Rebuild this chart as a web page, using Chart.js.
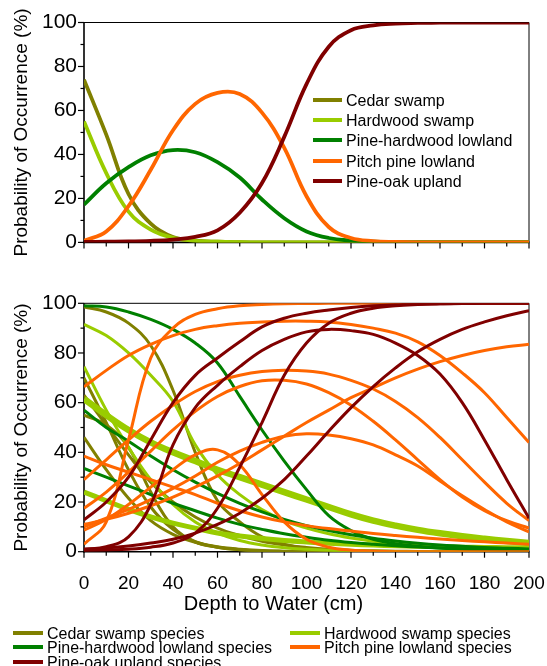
<!DOCTYPE html>
<html>
<head>
<meta charset="utf-8">
<script src="https://cdn.jsdelivr.net/npm/chart.js@4.4.0/dist/chart.umd.min.js"></script>
<style>
  html, body { margin: 0; padding: 0; background: #fff; }
  body { width: 547px; height: 666px; overflow: hidden; position: relative; font-family: "Liberation Sans", Arial, sans-serif; color: #000; }
  canvas { position: absolute; left: 0; }
  #c1 { top: 0; }
  #c2 { top: 280px; }
  #xtitle { position: absolute; left: 0; width: 547px; top: 592px; text-align: center; font-size: 20px; line-height: 22px; }
  .lt { position: absolute; white-space: nowrap; font-size: 16px; }
  .sw { position: absolute; height: 4px; }
</style>
</head>
<body>
<canvas id="c1" width="547" height="262"></canvas>
<canvas id="c2" width="547" height="320"></canvas>
<div id="xtitle">Depth to Water (cm)</div>
<div id="legends"></div>
<script>
// ---------- data ----------
const depthCm = [0,10,20,30,40,50,60,70,80,90,100,110,120,130,140,150,160,170,180,190,200];

const groupNames = ['Cedar swamp','Hardwood swamp','Pine-hardwood lowland','Pitch pine lowland','Pine-oak upland'];
const bottomLegendNames = ['Cedar swamp species','Hardwood swamp species','Pine-hardwood lowland species','Pitch pine lowland species','Pine-oak upland species'];

// Top panel: community-level curves (%)
const topCedar        = [74, 49, 22, 8.5, 2.4, 0.8, 0.3, 0.1, 0, 0, 0, 0, 0, 0, 0, 0, 0, 0, 0, 0, 0];
const topHardwood     = [55, 31.5, 14, 5.8, 2.1, 0.7, 0.3, 0.1, 0, 0, 0, 0, 0, 0, 0, 0, 0, 0, 0, 0, 0];
const topPineHardwood = [17.2, 26.9, 34.2, 39.6, 42, 41, 36.5, 29.5, 19.5, 11, 5, 2, 0.8, 0.3, 0.1, 0, 0, 0, 0, 0, 0];
const topPitchPine    = [0.7, 5, 16.5, 33, 51, 63, 68, 67.5, 59, 43, 21, 7, 2, 0.6, 0.2, 0, 0, 0, 0, 0, 0];
const topPineOak      = [0.2, 0.3, 0.4, 0.7, 1.3, 2.5, 5.5, 13.5, 27, 48, 72, 89, 96.5, 98.7, 99.5, 99.8, 100, 100, 100, 100, 100];

// Bottom panel: species-level curves (%)
const cedar1 = [98.5, 96.5, 92, 83, 65, 40, 20.5, 12, 6, 3, 1.3, 0.6, 0.3, 0.1, 0, 0, 0, 0, 0, 0, 0];
const cedar2 = [70, 52, 33, 18, 9, 4, 1.8, 0.8, 0.3, 0.1, 0, 0, 0, 0, 0, 0, 0, 0, 0, 0, 0];
const cedar3 = [63, 51, 39, 28, 20, 14, 9.5, 6.5, 4.2, 2.7, 1.7, 1, 0.6, 0.35, 0.2, 0.1, 0, 0, 0, 0, 0];
const cedar4 = [46, 33, 21.5, 12.5, 7, 3.8, 2, 1, 0.5, 0.2, 0.1, 0, 0, 0, 0, 0, 0, 0, 0, 0, 0];
const cedar5 = [55, 51, 42, 24, 10, 4, 1.8, 0.8, 0.3, 0.1, 0, 0, 0, 0, 0, 0, 0, 0, 0, 0, 0];

const hardwood1 = [91.5, 87, 80, 71, 60.5, 43, 31, 23, 17, 12.5, 9.5, 7.2, 5.5, 4.2, 3.2, 2.4, 1.8, 1.4, 1.1, 0.8, 0.6];
const hardwood2 = [74.5, 57, 42, 29, 19, 12, 7.5, 4.5, 2.7, 1.6, 1, 0.6, 0.4, 0.2, 0.1, 0, 0, 0, 0, 0, 0];
const hardwood3 = [61.5, 55, 49, 44, 40, 36.5, 33, 30, 27, 24, 21, 18, 15, 12.5, 10.5, 8.8, 7.4, 6.2, 5.2, 4.3, 3.5];
const hardwood4 = [24, 20.5, 17, 14, 11.5, 9.5, 7.5, 6.3, 5.3, 4.5, 3.9, 3.4, 3, 2.7, 2.4, 2.2, 2, 1.8, 1.7, 1.6, 1.5];

const pineHardwood1 = [99, 98.5, 96.5, 93.5, 89.5, 84, 76, 62.5, 49, 36.5, 25, 14.5, 8.5, 5, 3.2, 2.2, 1.5, 1.1, 0.8, 0.6, 0.5];
const pineHardwood2 = [57, 50, 44.5, 38.5, 33, 28, 23.5, 19.5, 16, 13, 10.5, 8.5, 6.8, 5.4, 4.3, 3.4, 2.7, 2.2, 1.7, 1.4, 1.1];
const pineHardwood3 = [33.5, 30, 26.5, 23, 19.5, 16.5, 13.5, 11, 9, 7.2, 5.8, 4.6, 3.7, 3, 2.4, 1.9, 1.5, 1.2, 1, 0.8, 0.6];

const pitchPine1 = [3, 12, 45, 78, 90, 95.5, 97.8, 99, 99.5, 99.8, 99.9, 100, 100, 100, 100, 100, 100, 100, 100, 100, 100];
const pitchPine2 = [66.4, 73, 79, 83.5, 87, 89.5, 91, 92, 92.5, 92.8, 92.8, 92.5, 91.5, 90, 88, 84.5, 79, 72, 64, 54, 44];
const pitchPine3 = [11, 13, 15.5, 18.5, 22, 26, 30.5, 35.5, 41, 46.5, 52, 57, 62, 66, 70, 73.5, 76.5, 79, 81, 82.5, 83.5];
const pitchPine4 = [29, 37, 45, 52.5, 59, 64.5, 68.5, 71, 72.5, 73, 72.7, 71.5, 69, 65.5, 60.5, 54, 46, 37, 28, 19.5, 12.5];
const pitchPine5 = [17.5, 24, 32, 40.5, 49, 56.5, 62.5, 66.5, 68.8, 69, 67.5, 64, 59, 52.5, 45, 37, 29, 22, 16.5, 12.5, 9.5];
const pitchPine6 = [10, 13.5, 17, 21, 25.5, 30.5, 36, 40.5, 44, 46.5, 47.5, 47, 45.5, 43, 39, 34.5, 28.5, 22.5, 17, 12, 8];
const pitchPine7 = [8.7, 13, 19, 26, 33, 39, 41, 35, 23, 12, 5, 1.8, 0.6, 0.2, 0, 0, 0, 0, 0, 0, 0];
const pitchPine8 = [38.5, 35, 32, 29, 26, 23, 19.5, 16.5, 14, 12, 10.5, 9.3, 8.3, 7.3, 6.5, 5.8, 5.1, 4.5, 4, 3.5, 3];

const pineOak1 = [12.8, 20, 30, 45, 60, 71, 78, 84.5, 90.5, 94, 96, 97.3, 98.3, 99, 99.4, 99.7, 99.8, 99.9, 100, 100, 100];
const pineOak2 = [1, 2, 6, 19, 43, 58, 67, 74.5, 81, 85.5, 88.5, 89.5, 89, 87.5, 84, 79, 71.5, 60, 45, 29, 13.5];
const pineOak3 = [1, 1.5, 2.3, 3.5, 5, 7.5, 11, 15.5, 21.5, 29, 38.5, 48.5, 58, 66.5, 74, 80.5, 85.5, 89.5, 92.5, 95, 97];
const pineOak4 = [0.5, 0.7, 1, 1.8, 3.5, 7.5, 17.5, 34, 52, 71, 84, 92, 96, 98, 99, 99.5, 99.8, 100, 100, 100, 100];

// ---------- styles ----------
const groupColors = ['#808000', '#99cc00', '#008000', '#ff6600', '#800000'];
const FONT = '"Liberation Sans", Arial, Helvetica, sans-serif';

const topSeries = [topCedar, topHardwood, topPineHardwood, topPitchPine, topPineOak];
const bottomGroups = [
  [cedar1, cedar2, cedar3, cedar4, cedar5],
  [hardwood3, hardwood4, hardwood1, hardwood2],
  [pineHardwood1, pineHardwood2, pineHardwood3],
  [pitchPine1, pitchPine2, pitchPine3, pitchPine4, pitchPine5, pitchPine6, pitchPine7, pitchPine8],
  [pineOak1, pineOak2, pineOak3, pineOak4]
];
const thickLines = new Map([[hardwood3, 6.5], [hardwood4, 5]]);

function makeSet(values, color, width, order) {
  return {
    data: values.map((v, i) => ({ x: depthCm[i], y: v })),
    borderColor: color,
    backgroundColor: color,
    borderWidth: width,
    pointRadius: 0,
    fill: false,
    tension: 0.4,
    order: order
  };
}

const framePlugin = {
  id: 'frame',
  beforeDatasetsDraw(chart) {
    const { ctx, chartArea: a, scales } = chart;
    const xs = scales.x, ys = scales.y;
    ctx.save();
    ctx.strokeStyle = '#000';
    ctx.lineCap = 'butt';
    const seg = (x1, y1, x2, y2) => { ctx.beginPath(); ctx.moveTo(x1, y1); ctx.lineTo(x2, y2); ctx.stroke(); };
    ctx.lineWidth = 1;
    seg(a.left, a.top, a.right, a.top);
    seg(a.right, a.top, a.right, a.bottom);
    ctx.lineWidth = 1.6;
    seg(a.left, a.top, a.left, a.bottom + 0.8);
    seg(a.left - 0.8, a.bottom, a.right + 0.5, a.bottom);
    ctx.lineWidth = 1.2;
    xs.ticks.forEach(t => {
      const px = xs.getPixelForValue(t.value);
      const len = (t.value % 20 === 0) ? 6 : 4;
      seg(px, a.bottom, px, a.bottom + len);
    });
    ys.ticks.forEach(t => {
      const py = ys.getPixelForValue(t.value);
      const len = (t.value % 20 === 0) ? 6 : 3.5;
      seg(a.left, py, a.left - len, py);
    });
    ctx.restore();
  }
};

function makeScales(showXLabels, xAxisHeight) {
  return {
    x: {
      type: 'linear', min: 0, max: 200,
      grid: { display: false, drawTicks: false }, border: { display: false },
      ticks: {
        display: showXLabels, stepSize: 10, autoSkip: false, maxRotation: 0, minRotation: 0,
        padding: 21, color: '#000', font: { family: FONT, size: 19 },
        callback: v => (v % 20 === 0 ? String(v) : '')
      },
      afterFit: s => { s.height = xAxisHeight; s.paddingLeft = 0; s.paddingRight = 0; }
    },
    y: {
      min: 0, max: 100,
      grid: { display: false, drawTicks: false }, border: { display: false },
      ticks: {
        stepSize: 10, autoSkip: false, padding: 7, color: '#000',
        font: { family: FONT, size: 21 },
        callback: v => (v % 20 === 0 ? String(v) : '')
      },
      title: {
        display: true, text: 'Probability of Occurrence (%)', color: '#000',
        font: { family: FONT, size: 19 }, padding: { top: 10, bottom: 0 }
      },
      afterFit: s => { s.width = 84; }
    }
  };
}

function baseOptions(padTop, showXLabels, xAxisHeight) {
  return {
    responsive: false,
    animation: false,
    events: [],
    layout: { padding: { top: padTop, right: 18, left: 0, bottom: 0 } },
    plugins: { legend: { display: false }, tooltip: { enabled: false }, title: { display: false } },
    scales: makeScales(showXLabels, xAxisHeight)
  };
}

// ---------- top chart ----------
const topSets = topSeries.map((vals, g) => makeSet(vals, groupColors[g], 3.8, 4 - g));
new Chart(document.getElementById('c1'), {
  type: 'line',
  data: { datasets: topSets },
  options: baseOptions(22.5, false, 262 - 246.7),
  plugins: [framePlugin]
});

// ---------- bottom chart ----------
const bottomSets = [];
bottomGroups.forEach((series, g) => {
  series.forEach((vals) => {
    const w = thickLines.has(vals) ? thickLines.get(vals) : 3;
    bottomSets.push(makeSet(vals, groupColors[g], w, (4 - g) * 10 + (thickLines.has(vals) ? 9 : 0)));
  });
});
new Chart(document.getElementById('c2'), {
  type: 'line',
  data: { datasets: bottomSets },
  options: baseOptions(303.3 - 280, true, 320 - (551.7 - 280)),
  plugins: [framePlugin]
});

// ---------- legends (HTML text) ----------
const legendRoot = document.getElementById('legends');
function addLegendItem(label, color, swLeft, swWidth, textLeft, centerY, fontSize) {
  const sw = document.createElement('div');
  sw.className = 'sw';
  sw.style.left = swLeft + 'px';
  sw.style.width = swWidth + 'px';
  sw.style.top = (centerY - 3) + 'px';
  sw.style.background = color;
  legendRoot.appendChild(sw);
  const t = document.createElement('div');
  t.className = 'lt';
  t.style.left = textLeft + 'px';
  t.style.fontSize = fontSize + 'px';
  t.style.lineHeight = '20px';
  t.style.top = (centerY - 10) + 'px';
  t.textContent = label;
  legendRoot.appendChild(t);
}
// top panel legend inside plot
groupNames.forEach((name, g) => {
  addLegendItem(name, groupColors[g], 313, 29, 346, 101 + g * 20.2, 16);
});
// bottom legend, two columns
const bottomLegendPos = [
  [13, 47, 633.5], [290, 324, 633.5],
  [13, 47, 648], [290, 324, 648],
  [13, 47, 663]
];
bottomLegendNames.forEach((name, g) => {
  const p = bottomLegendPos[g];
  addLegendItem(name, groupColors[g], p[0], 30, p[1], p[2], 16);
});
</script>
</body>
</html>
